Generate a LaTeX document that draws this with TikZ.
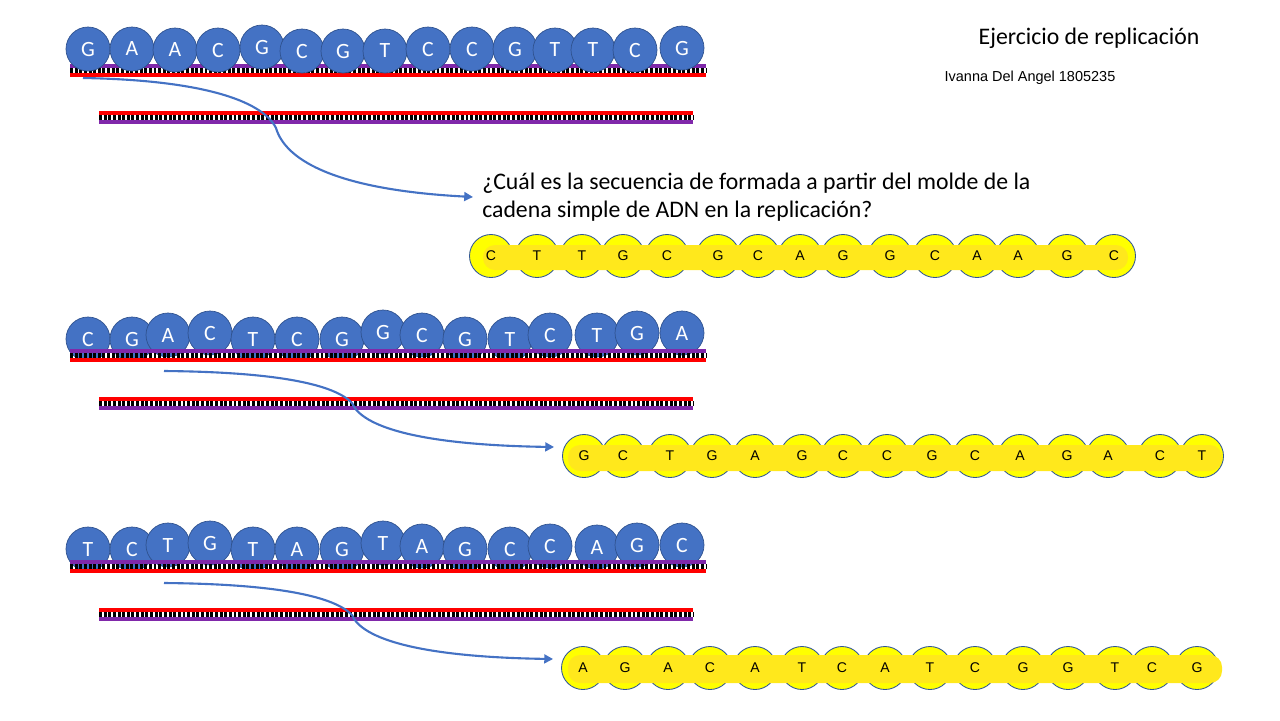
\documentclass[tikz,border=0pt]{standalone}
\usepackage{fontspec}
\setmainfont{Carlito}
\newfontfamily\arialfont{Liberation Sans}
\usepackage{xcolor}
\usepackage{tikz}
\usetikzlibrary{arrows.meta,positioning}

\definecolor{beadblue}{RGB}{68,114,196}
\definecolor{beadedge}{RGB}{47,82,143}
\definecolor{strandpurple}{RGB}{128,40,170}
\definecolor{copyyellow}{RGB}{255,255,0}
\definecolor{baryellow}{RGB}{255,232,28}
\definecolor{ringblue}{RGB}{47,85,151}

% ladder: left x, right x, top y, top colour, bottom colour
\newcommand{\dnastrand}[5]{%
  \draw[rungs] (#1,#3+4.5) -- (#2,#3+4.5);
  \draw[backbone, #4] (#1,#3) -- (#2,#3);
  \draw[backbone, #5] (#1,#3+9) -- (#2,#3+9);}

\begin{document}
\begin{tikzpicture}[
  x=0.25mm, y=-0.25mm,
  bead/.style={circle, draw=beadedge, line width=0.5pt, fill=beadblue, minimum size=11mm, inner sep=0pt, text=white, font=\fontsize{15.5}{17}\selectfont},
  copy/.style={circle, draw=ringblue, line width=0.6pt, fill=copyyellow, minimum size=10.75mm, inner sep=0pt},
  letter/.style={inner sep=0pt, font=\arialfont\fontsize{10}{12}\selectfont},
  backbone/.style={line width=2.2pt},
  rungs/.style={line width=3.6pt, dash pattern=on 2.1pt off 1.2pt},
  bar/.style={fill=baryellow, rounded corners=3mm},
  arr/.style={-{Triangle[length=2.2mm, width=2.2mm]}, draw=beadblue, line width=1.5pt},
  big/.style={font=\fontsize{16.9}{20}\selectfont}
]
\useasboundingbox (0,0) rectangle (1280,720);

% titles
\node[big] (title) at (1089,38) {Ejercicio de replicación};
\node[font=\arialfont\fontsize{10.3}{12}\selectfont] (author) at (1030,78) {Ivanna Del Angel 1805235};

% --- first template ---
\dnastrand{70}{706}{66}{strandpurple}{red}
\foreach \x/\y/\b [count=\i] in {88/49/G,132/49/A,175/50/A,218/50/C,262/47/G,302/51/C,343/51/G,385/51/T,428/49/C,472/49/C,515/49/G,555/50/T,593/50/T,635/50/C,682/48/G}
  \node[bead] (t1-\i) at (\x,\y) {\b};
\dnastrand{99}{693}{113}{red}{strandpurple}

\node[big, align=left, anchor=west, inner sep=0pt] (q) at (482,197)
  {¿Cuál es la secuencia de formada a partir del molde de la\\cadena simple de ADN en la replicación?};

\foreach \x [count=\i] in {491,537,582,623,667,718,758,800,843,890,935,977,1018,1067,1114}
  \node[copy] (c1-\i) at (\x,256) {};
\fill[bar] (483,245) rectangle (1128,270);
\foreach \b [count=\i] in {C,T,T,G,C,G,C,A,G,G,C,A,A,G,C}
  \node[letter] (l1-\i) at (c1-\i) {\b};

% --- second template ---
\foreach \x/\y/\b [count=\i] in {88/339/C,132/339/G,168/335/A,210/333/C,253/339/T,297/339/C,342/339/G,383/332/G,422/335/C,465/339/G,510/339/T,550/335/C,597/335/T,637/333/G,682/333/A}
  \node[bead] (t2-\i) at (\x,\y) {\b};
\dnastrand{70}{706}{351}{strandpurple}{red}
\dnastrand{99}{693}{399}{red}{strandpurple}

\foreach \x [count=\i] in {584,623,670,712,755,802,843,887,932,975,1020,1067,1108,1160,1202}
  \node[copy] (c2-\i) at (\x,456) {};
\fill[bar] (568,445) rectangle (1222,471);
\foreach \b [count=\i] in {G,C,T,G,A,G,C,C,G,C,A,G,A,C,T}
  \node[letter] (l2-\i) at (c2-\i) {\b};

% --- third template ---
\foreach \x/\y/\b [count=\i] in {88/549/T,132/549/C,168/545/T,210/543/G,253/549/T,297/549/A,342/549/G,383/543/T,422/546/A,465/549/G,510/549/C,550/546/C,597/547/A,637/545/G,682/545/C}
  \node[bead] (t3-\i) at (\x,\y) {\b};
\dnastrand{70}{706}{562}{strandpurple}{red}
\dnastrand{99}{693}{610}{red}{strandpurple}

\foreach \x [count=\i] in {583,625,668,710,755,802,842,885,930,975,1023,1068,1115,1152,1197}
  \node[copy] (c3-\i) at (\x,668) {};
\fill[bar] (568,655) rectangle (1222,683);
\foreach \b [count=\i] in {A,G,A,C,A,T,C,A,T,C,G,G,T,C,G}
  \node[letter] (l3-\i) at (c3-\i) {\b};

% arrows
\coordinate (s1) at (83,78);
\coordinate (s2) at (164,371);
\coordinate (s3) at (164,583);
\draw[arr] (s1) .. controls (200,80) and (262,100) .. (276,128)
  .. controls (286,162) and (340,190) .. ([xshift=-2.25mm]q.west);
\draw[arr] (s2) .. controls (280,372) and (335,385) .. (352,403)
  .. controls (362,427) and (420,445) .. ([xshift=-2mm, yshift=2.25mm]c2-1.west);
\draw[arr] (s3) .. controls (280,584) and (335,597) .. (352,615)
  .. controls (362,639) and (420,657) .. ([xshift=-2mm, yshift=2.25mm]c3-1.west);
\end{tikzpicture}
\end{document}
